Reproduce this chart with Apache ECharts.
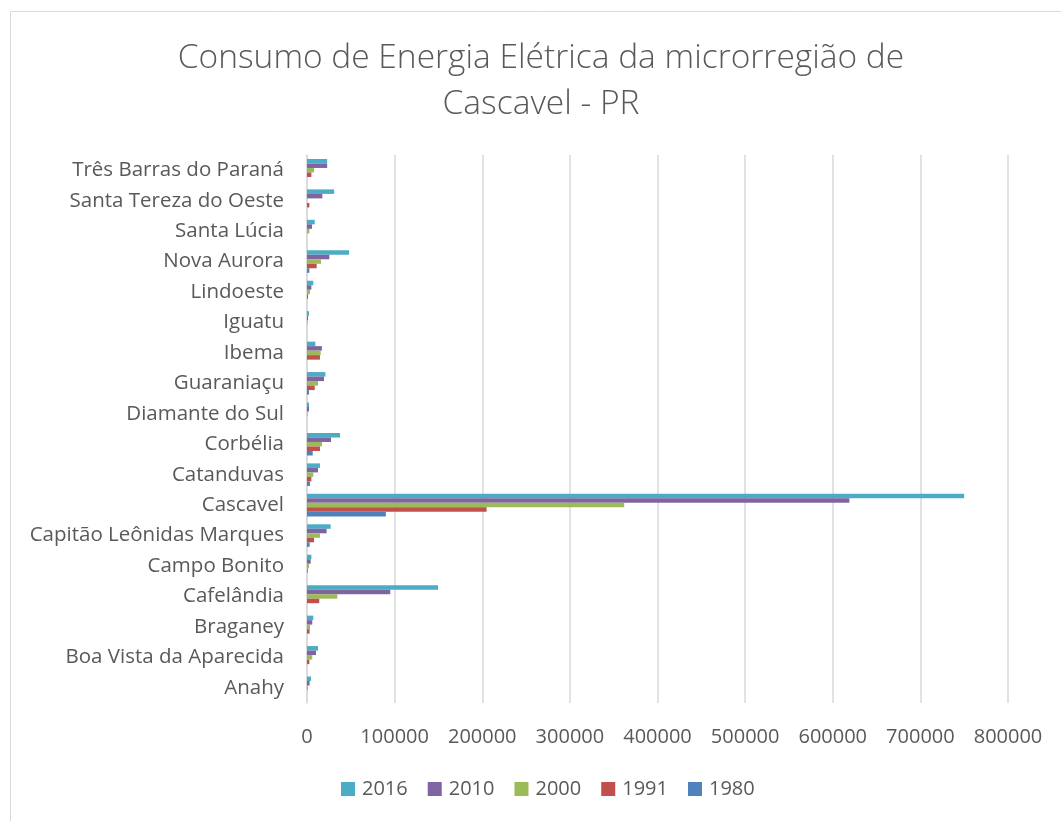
<!DOCTYPE html>
<html><head><meta charset="utf-8">
<script src="https://cdn.jsdelivr.net/npm/echarts@6/dist/echarts.min.js"></script>
<style>html,body{margin:0;padding:0;background:#fff;}#c{width:1061px;height:821px;}</style>
</head><body><div id="c"></div>
<script>
const categories = ['Anahy','Boa Vista da Aparecida','Braganey','Cafelândia','Campo Bonito','Capitão Leônidas Marques','Cascavel','Catanduvas','Corbélia','Diamante do Sul','Guaraniaçu','Ibema','Iguatu','Lindoeste','Nova Aurora','Santa Lúcia','Santa Tereza do Oeste','Três Barras do Paraná'];
const v1980 = [0, 0, 0, 0, 0, 3000, 90000, 3400, 6500, 0, 2300, 0, 0, 0, 2700, 0, 0, 0];
const v1991 = [0, 2700, 3000, 14000, 800, 8000, 205000, 5000, 14800, 0, 8800, 14800, 0, 1100, 11000, 0, 2700, 5000];
const v2000 = [1100, 6000, 3400, 34600, 2300, 14800, 362000, 7200, 17000, 700, 12600, 15600, 700, 3400, 16000, 2700, 0, 8000];
const v2010 = [3000, 10300, 6000, 95000, 4200, 22400, 619000, 12600, 27400, 2300, 19400, 17000, 1200, 5000, 25500, 5700, 17500, 23000];
const v2016 = [4600, 12600, 7200, 149500, 5000, 27000, 750000, 14800, 37700, 2300, 21000, 9500, 2300, 7200, 48000, 8800, 31000, 23000];
const seriesNames = ['2016','2010','2000','1991','1980'];
const legendOrder = ['2016','2010','2000','1991','1980'];
const xTicks = [0,100000,200000,300000,400000,500000,600000,700000,800000];

const colors = {'1980':'#4f81bd','1991':'#c0504d','2000':'#9bbb59','2010':'#8064a2','2016':'#4bacc6'};
const values = {'1980':v1980,'1991':v1991,'2000':v2000,'2010':v2010,'2016':v2016};
const font = "'Open Sans', 'Noto Sans', sans-serif";

const chart = echarts.init(document.getElementById('c'), null, {renderer:'canvas'});
chart.setOption({
  animation:false,
  backgroundColor:'#fff',
  title:{
    text:'Consumo de Energia Elétrica da microrregião de\nCascavel - PR',
    left:536, top:30, textAlign:'center',
    textStyle:{fontFamily:font, fontWeight:300, fontSize:33.5, color:'#595959', lineHeight:46}
  },
  legend:{
    data:legendOrder, bottom:17, left:336,
    itemWidth:14, itemHeight:14, itemGap:20, icon:'rect',
    textStyle:{fontFamily:font, fontSize:20, color:'#595959', padding:[0,0,0,2]}
  },
  grid:{left:307, right:53, top:155, bottom:118, containLabel:false},
  xAxis:{
    type:'value', min:xTicks[0], max:xTicks[xTicks.length-1], interval:100000,
    axisLine:{show:false}, axisTick:{show:false},
    splitLine:{lineStyle:{color:'#d9d9d9', width:1.5}},
    axisLabel:{fontFamily:font, fontSize:20, color:'#595959', margin:24, formatter:v => String(v)}
  },
  yAxis:{
    type:'category', data:categories,
    axisLine:{lineStyle:{color:'#d9d9d9', width:1.5}}, axisTick:{show:false},
    axisLabel:{fontFamily:font, fontSize:20.5, color:'#595959', margin:23}
  },
  graphic:[{type:'rect', shape:{x:10.5,y:11.5,width:1060,height:820}, style:{fill:null, stroke:'#d9d9d9', lineWidth:1}, silent:true, z:-1}],
  series: seriesNames.map(n => ({
    name:n, type:'bar', data:values[n], barGap:'0%', barCategoryGap:'26%',
    itemStyle:{color:colors[n]}
  }))
});
</script></body></html>
